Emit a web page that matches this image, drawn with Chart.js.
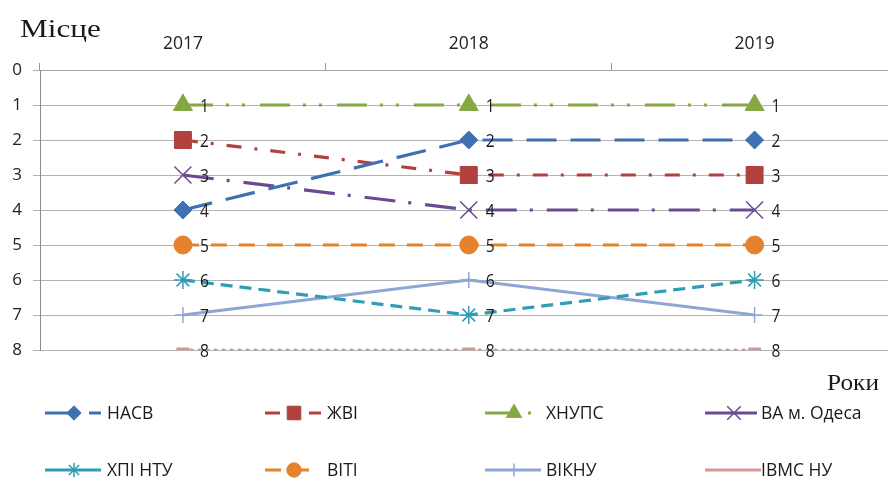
<!DOCTYPE html>
<html>
<head>
<meta charset="utf-8">
<script src="https://cdn.jsdelivr.net/npm/chart.js@4.4.0/dist/chart.umd.min.js"></script>
<style>
  html, body { margin: 0; padding: 0; background: #fff; overflow: hidden; }
  #wrap { position: relative; width: 911px; height: 484px; }
</style>
</head>
<body>
<div id="wrap"><canvas id="rankChart"></canvas></div>
<script>
  // Data
  const years = ['2017', '2018', '2019'];
  const rankTicks = [0, 1, 2, 3, 4, 5, 6, 7, 8];
  const names = ['НАСВ', 'ЖВІ', 'ХНУПС', 'ВА м. Одеса', 'ХПІ НТУ', 'ВІТІ', 'ВІКНУ', 'ІВМС НУ'];
  const nasv = [4, 2, 2];
  const zhvi = [2, 3, 3];
  const khnups = [1, 1, 1];
  const vaOdesa = [3, 4, 4];
  const khpi = [6, 7, 6];
  const viti = [5, 5, 5];
  const viknu = [7, 6, 7];
  const ivms = [8, 8, 8];

  // Styles per series (legend: ld = legend dash, ll = legend line length)
  const styles = [
    { color: '#3E70B2', dash: [30, 14], point: 'rectRot', r: 9, pw: 1, bw: 3.2 },
    { color: '#B0413E', dash: [15, 13, 3, 13], point: 'rect', r: 12, pw: 1, bw: 3.2 },
    { color: '#86A844', dash: [30, 13, 3, 13, 3, 15], point: 'triangle', r: 11, pw: 1, bw: 3.2 },
    { color: '#6A4A93', dash: [31, 13, 3, 14], point: 'crossRot', r: 12, pw: 1.5, bw: 3.2, ld: [], ll: 52 },
    { color: '#2E9DB5', dash: [12, 7], point: 'star', r: 9, pw: 1.5, bw: 3.2, ld: [] },
    { color: '#E4822E', dash: [16, 12], point: 'circle', r: 9, pw: 1, bw: 3.2, ll: 44 },
    { color: '#8DA6D6', dash: [], point: 'cross', r: 8, pw: 1.5, bw: 3.2 },
    { color: '#D99593', dash: [1.5, 6.5], point: 'line', r: 6.5, pw: 5, bw: 3, ld: [] }
  ];
  const values = [nasv, zhvi, khnups, vaOdesa, khpi, viti, viknu, ivms];
  const legendTextDx = [62, 62, 61, 56];

  const datasets = values.map((v, i) => ({
    label: names[i],
    data: v,
    borderColor: styles[i].color,
    backgroundColor: styles[i].color,
    borderWidth: styles[i].bw,
    borderDash: styles[i].dash,
    borderCapStyle: i === 7 ? 'round' : 'butt',
    pointStyle: styles[i].point,
    pointRadius: styles[i].r,
    pointHoverRadius: styles[i].r,
    pointBorderWidth: styles[i].pw,
    tension: 0
  }));

  // Value labels next to each point
  const valueLabels = {
    id: 'valueLabels',
    afterDatasetsDraw(chart) {
      const ctx = chart.ctx;
      ctx.save();
      ctx.font = '19px "Open Sans"';
      ctx.fillStyle = '#1a1a1a';
      ctx.textAlign = 'left';
      ctx.textBaseline = 'middle';
      chart.data.datasets.forEach((ds, i) => {
        chart.getDatasetMeta(i).data.forEach((pt, j) => {
          ctx.save();
          ctx.translate(pt.x + 17, pt.y + 2);
          ctx.scale(0.82, 1);
          ctx.fillText(ds.data[j], 0, 0);
          ctx.restore();
        });
      });
      ctx.restore();
    }
  };

  // stretched serif text, like the original picture
  function wideText(ctx, txt, x, y, size, sx) {
    ctx.save();
    ctx.translate(x, y);
    ctx.scale(sx, 1);
    ctx.font = size + 'px "Liberation Serif"';
    ctx.fillText(txt, 0, 0);
    ctx.restore();
  }

  // Axis titles and legend like the original
  const extras = {
    id: 'extras',
    afterDraw(chart) {
      const ctx = chart.ctx;
      ctx.save();
      ctx.fillStyle = '#1a1a1a';
      ctx.textBaseline = 'alphabetic';
      wideText(ctx, 'Місце', 20, 37, 26, 1.2);
      wideText(ctx, 'Роки', 827, 390, 23, 1.1);

      // legend
      ctx.font = '17.5px "Open Sans"';
      ctx.textBaseline = 'middle';
      chart.data.datasets.forEach((ds, i) => {
        const col = i % 4, row = Math.floor(i / 4);
        const x0 = 45 + col * 220, y = 413 + row * 57;
        const s = styles[i];
        ctx.strokeStyle = s.color;
        ctx.fillStyle = s.color;
        ctx.lineWidth = 3;
        ctx.lineCap = 'butt';
        ctx.setLineDash(s.ld || s.dash);
        ctx.beginPath();
        ctx.moveTo(x0, y);
        ctx.lineTo(x0 + (s.ll || 56), y);
        ctx.stroke();
        ctx.setLineDash([]);
        ctx.lineWidth = s.pw;
        if (i !== 7) {
          Chart.helpers.drawPoint(ctx, { pointStyle: s.point, radius: s.r * 0.8, rotation: 0, borderWidth: s.pw }, x0 + 29, y);
        }
        ctx.fillStyle = '#1a1a1a';
        ctx.fillText(ds.label, x0 + legendTextDx[col], y + 1);
      });
      ctx.restore();
    }
  };

  new Chart(document.getElementById('rankChart'), {
    type: 'line',
    data: { labels: years, datasets: datasets },
    plugins: [valueLabels, extras],
    options: {
      responsive: true,
      maintainAspectRatio: false,
      animation: false,
      layout: { padding: { left: 0, top: 0, right: 0, bottom: 134 } },
      plugins: { legend: { display: false }, tooltip: { enabled: false } },
      scales: {
        x: {
          type: 'category',
          position: 'top',
          offset: true,
          afterFit: s => { s.height = 70; },
          grid: { offset: true, drawOnChartArea: false, tickLength: 7, color: '#9a9a9a' },
          border: { color: '#a6a6a6' },
          ticks: { color: '#222', font: { family: 'Open Sans', size: 17.5 }, padding: 8 }
        },
        y: {
          reverse: true,
          min: 0,
          max: 8,
          afterFit: s => { s.width = 40; },
          afterBuildTicks: s => { s.ticks = rankTicks.map(v => ({ value: v })); },
          grid: { color: '#b3b3b3', tickLength: 7, lineWidth: 1 },
          border: { color: '#8c8c8c' },
          ticks: { color: '#222', font: { family: 'Open Sans', size: 17 }, padding: 11 }
        }
      }
    }
  });
</script>
</body>
</html>
